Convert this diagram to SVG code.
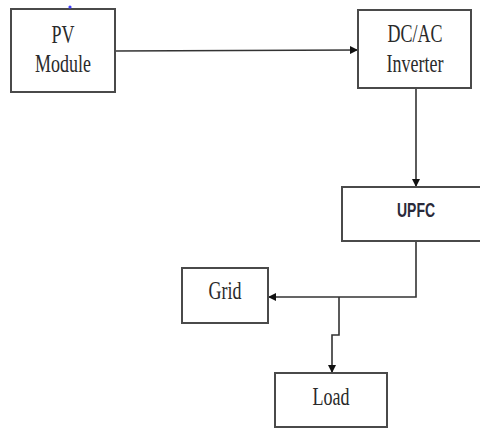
<svg xmlns="http://www.w3.org/2000/svg" width="480" height="430" viewBox="0 0 480 430">
<style>
.box{fill:#fff;stroke:#4a4a4a;stroke-width:2}
.lbl{font-family:"Liberation Serif","Times New Roman",serif;font-size:18px;fill:#2a2a2a;text-anchor:middle}
.lbls{font-family:"Liberation Sans",Arial,sans-serif;font-weight:bold;font-size:14px;fill:#2a2a3a;text-anchor:middle}
.ln{fill:none;stroke:#333;stroke-width:1.6}
</style>
<defs>
<marker id="arr" viewBox="0 0 10 10" refX="10" refY="5" markerWidth="8" markerHeight="8" markerUnits="userSpaceOnUse" orient="auto">
<path d="M0,0 L10,5 L0,10 z" fill="#111"/>
</marker>
</defs>
<rect width="480" height="430" fill="#fff"/>
<g id="connectors">
<line class="ln" x1="115" y1="51" x2="358" y2="50" marker-end="url(#arr)"/>
<line class="ln" x1="416" y1="88" x2="416" y2="187" marker-end="url(#arr)"/>
<polyline class="ln" points="416,241 416,297 268,297" marker-end="url(#arr)"/>
<polyline class="ln" points="339,297 339,335 332,335 332,373" marker-end="url(#arr)"/>
</g>
<g id="pv">
<rect class="box" x="11" y="9" width="104" height="83"/>
<circle cx="70" cy="7" r="1.6" fill="#4040ff"/>
<text class="lbl" transform="translate(63,43) scale(1,1.35)">PV</text>
<text class="lbl" transform="translate(63,72) scale(1,1.35)">Module</text>
</g>
<g id="inverter">
<rect class="box" x="358" y="10" width="113" height="78"/>
<text class="lbl" transform="translate(415,42) scale(1,1.35)">DC/AC</text>
<text class="lbl" transform="translate(415,72) scale(1,1.35)">Inverter</text>
</g>
<g id="upfc">
<rect class="box" x="342" y="187" width="150" height="54"/>
<text class="lbls" transform="translate(416,217) scale(1,1.45)">UPFC</text>
</g>
<g id="grid">
<rect class="box" x="182" y="268" width="86" height="55"/>
<text class="lbl" transform="translate(225,299) scale(1,1.35)">Grid</text>
</g>
<g id="load">
<rect class="box" x="275" y="373" width="112" height="54"/>
<text class="lbl" transform="translate(331,405) scale(1,1.35)">Load</text>
</g>
</svg>
